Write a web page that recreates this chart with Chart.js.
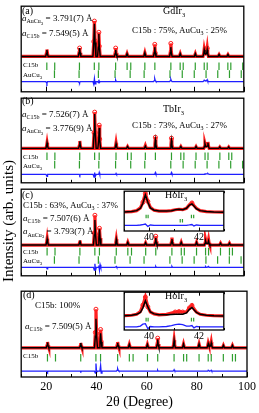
<!DOCTYPE html>
<html>
<head>
<meta charset="utf-8">
<script src="https://cdn.jsdelivr.net/npm/chart.js@4.4.0/dist/chart.umd.min.js"></script>
<style>
  html, body { margin: 0; padding: 0; background: #fff; }
  body { width: 259px; height: 413px; position: relative; overflow: hidden;
         font-family: "Liberation Serif", "Times New Roman", serif; color: #000; }
  .box { position: absolute; }
  .t { position: absolute; white-space: nowrap; line-height: 1; font-size: 9px; z-index: 5; }
  .s { font-size: 6px; position: relative; top: 2.5px; }
  .s .s { font-size: 5px; top: 1.5px; }
  .lbl { font-size: 7px; }
  .lbl .s { font-size: 5px; top: 2px; }
  .name { font-size: 10px; }
  .name .s { font-size: 6.5px; top: 3px; }
</style>
</head>
<body>

<div class="box" style="left:16px;top:1px;width:233px;height:96px"><canvas id="pa"></canvas></div>
<div class="box" style="left:16px;top:93px;width:233px;height:95px"><canvas id="pb"></canvas></div>
<div class="box" style="left:16px;top:184px;width:233px;height:97px"><canvas id="pc"></canvas></div>
<div class="box" style="left:16px;top:286px;width:243px;height:111px"><canvas id="pd"></canvas></div>
<div class="box" style="left:119px;top:186px;width:110px;height:57px"><canvas id="ic"></canvas></div>
<div class="box" style="left:119px;top:287px;width:110px;height:55px"><canvas id="id"></canvas></div>

<!-- panel (a) -->
<div class="t" style="left:22px;top:6px;font-size:10px">(a)</div>
<div class="t" style="left:22px;top:13.5px"><i>a</i><span class="s">AuCu<span class="s">3</span></span> = 3.791(7) Å</div>
<div class="t" style="left:22px;top:28.5px"><i>a</i><span class="s">C15b</span> = 7.549(5) Å</div>
<div class="t name" style="left:163px;top:6px">GdIr<span class="s">3</span></div>
<div class="t" style="left:132px;top:25.5px">C15b : 75%, AuCu<span class="s">3</span> : 25%</div>
<div class="t lbl" style="left:23px;top:62px">C15b</div>
<div class="t lbl" style="left:23px;top:71.5px">AuCu<span class="s">3</span></div>

<!-- panel (b) -->
<div class="t" style="left:22px;top:96px;font-size:10px">(b)</div>
<div class="t" style="left:22px;top:109.5px"><i>a</i><span class="s">C15b</span> = 7.526(7) Å</div>
<div class="t" style="left:22px;top:123.5px"><i>a</i><span class="s">AuCu<span class="s">3</span></span> = 3.776(9) Å</div>
<div class="t name" style="left:163px;top:104px">TbIr<span class="s">3</span></div>
<div class="t" style="left:132px;top:120.5px">C15b : 73%, AuCu<span class="s">3</span> : 27%</div>
<div class="t lbl" style="left:23px;top:154px">C15b</div>
<div class="t lbl" style="left:23px;top:163px">AuCu<span class="s">3</span></div>

<!-- panel (c) -->
<div class="t" style="left:22px;top:190px;font-size:10px">(c)</div>
<div class="t" style="left:23px;top:200.5px">C15b : 63%, AuCu<span class="s">3</span> : 37%</div>
<div class="t" style="left:23px;top:213.5px"><i>a</i><span class="s">C15b</span> = 7.507(6) Å</div>
<div class="t" style="left:23px;top:227px"><i>a</i><span class="s">AuCu<span class="s">3</span></span> = 3.793(7) Å</div>
<div class="t lbl" style="left:23px;top:248.5px">C15b</div>
<div class="t lbl" style="left:23px;top:257.5px">AuCu<span class="s">3</span></div>
<div class="t name" style="left:165px;top:189.5px">HoIr<span class="s">3</span></div>

<!-- panel (d) -->
<div class="t" style="left:23px;top:290px;font-size:10px">(d)</div>
<div class="t" style="left:35px;top:301px">C15b: 100%</div>
<div class="t" style="left:25px;top:321.5px"><i>a</i><span class="s">C15b</span> = 7.509(5) Å</div>
<div class="t lbl" style="left:23px;top:353px">C15b</div>
<div class="t name" style="left:165px;top:290.5px">HoIr<span class="s">3</span></div>

<div class="t" style="left:8px;top:221px;font-size:15px;transform:translate(-50%,-50%) rotate(-90deg)">Intensity (arb. units)</div>
<div class="t" style="left:139.5px;top:395px;font-size:14px;transform:translateX(-50%)">2θ (Degree)</div>

<script>
// axis ticks
const xTickVals = [10, 20, 30, 40, 50, 60, 70, 80, 90, 100];
const xLabels = ['', '20', '', '40', '', '60', '', '80', '', '100'];
const insetTickVals = [39, 40, 41, 42, 43];
const insetLabels = ['', '40', '', '42', ''];

// (a) GdIr3 profile
const gdX = [10,
  19.9, 20.2, 20.4, 20.6, 20.9,
  33.1, 33.4, 33.6, 33.8, 34.1,
  39.0, 39.35, 39.6, 39.85, 40.2,
  40.85, 41.2, 41.4, 41.6, 41.95,
  47.7, 48.0, 48.2, 48.4, 48.7,
  52.4, 52.8, 53.2,
  59.6, 60.0, 60.4,
  63.5, 63.8, 64.0, 64.2, 64.5,
  70.0, 70.3, 70.5, 70.7, 71.0,
  73.9, 74.3, 74.7,
  80.0, 80.4, 80.8,
  83.5, 83.8, 84.0, 84.3, 84.6, 84.95, 85.2, 85.4, 85.7,
  89.6, 90.0, 90.4,
  93.2, 93.6, 94.0,
  100];
const gdObs = [0,
  0, 3.5, 7.5, 3.5, 0,
  0, 4.5, 9, 4, 0,
  0, 16, 38, 17, 0,
  0, 11, 26, 11, 0,
  0, 4, 9, 4, 0,
  0, 3, 0,
  0, 4, 0,
  0, 5, 13, 5, 0,
  0, 5, 14, 5, 0,
  0, 3, 0,
  0, 3, 0,
  0, 3.5, 8, 4, 3, 4, 9, 4, 0,
  0, 2, 0,
  0, 2, 0,
  0];
const gdCalc = [0,
  0, 3, 7, 3, 0,
  0, 4, 9, 4, 0,
  0, 15, 35, 15, 0,
  0, 10, 24, 10, 0,
  0, 3, 7, 3, 0,
  0, 3, 0,
  0, 4, 0,
  0, 4, 10, 4, 0,
  0, 4, 10, 4, 0,
  0, 3, 0,
  0, 3, 0,
  0, 3, 7, 3, 2.5, 3, 7, 3, 0,
  0, 2, 0,
  0, 2, 0,
  0];
const gdDiff = [0,
  0, -1, -2, 0, 0,
  0, -1, -1.5, 0, 0,
  0, -3, 3, -2.5, 0,
  0, -1, 2, -1, 0,
  0, 0, 1.5, 0, 0,
  0, 0, 0,
  0, 0, 0,
  0, 1, 3, 1, 0,
  0, 1, 2.5, 1, 0,
  0, 0, 0,
  0, 0, 0,
  0, 0.5, 1.5, 1, 0.5, 1, 2, 0.5, 0,
  0, 0, 0,
  0, 0, 0,
  0];
const gdC15b = [20.36, 23.55, 33.55, 39.56, 41.40, 48.18, 52.82, 54.30, 59.99, 64.04,
  70.51, 74.27, 75.50, 80.38, 84.00, 85.20, 89.97, 93.55, 94.75, 99.56];
const gdAuCu3 = [23.45, 33.40, 41.21, 47.95, 54.05, 59.70, 70.16, 75.12, 79.97, 84.74,
  89.47, 94.21, 98.97];

// (b) TbIr3 profile
const tbX = [10,
  19.95, 20.25, 20.45, 20.65, 20.95,
  33.2, 33.5, 33.7, 33.9, 34.2,
  39.1, 39.45, 39.7, 39.95, 40.3,
  41.0, 41.35, 41.55, 41.75, 42.1,
  47.85, 48.15, 48.35, 48.55, 48.85,
  52.6, 53.0, 53.4,
  59.8, 60.2, 60.6,
  63.75, 64.05, 64.25, 64.45, 64.75,
  70.25, 70.55, 70.75, 70.95, 71.25,
  74.15, 74.55, 74.95,
  80.3, 80.7, 81.1,
  83.8, 84.1, 84.3, 84.6, 84.9, 85.25, 85.5, 85.7, 86.0,
  89.9, 90.3, 90.7,
  93.5, 93.9, 94.3,
  100];
const tbObs = [0,
  0, 2.5, 6, 2.5, 0,
  0, 3, 8, 3, 0,
  0, 17, 39, 17, 0,
  0, 10, 25, 10, 0,
  0, 2.5, 6, 2.5, 0,
  0, 2, 0,
  0, 3, 0,
  0, 5, 12, 5, 0,
  0, 4.5, 11, 4.5, 0,
  0, 2, 0,
  0, 2, 0,
  0, 2, 5.5, 2.5, 2.5, 3, 7, 3, 0,
  0, 1.5, 0,
  0, 1.5, 0,
  0];
const tbCalc = [0,
  0, 2.5, 6, 2.5, 0,
  0, 3, 7.5, 3, 0,
  0, 16, 37, 16, 0,
  0, 9, 22, 9, 0,
  0, 2, 5, 2, 0,
  0, 2, 0,
  0, 2.5, 0,
  0, 4, 9, 4, 0,
  0, 3.5, 8.5, 3.5, 0,
  0, 2, 0,
  0, 2, 0,
  0, 2, 5, 2, 2, 2.5, 6, 2.5, 0,
  0, 1.5, 0,
  0, 1.5, 0,
  0];
const tbDiff = [0,
  0, -1, -2, 0, 0,
  0, 0, -1, 0, 0,
  0, -3, 2, -2, 0,
  0, 0, 2, 0, 0,
  0, 0, 1, 0, 0,
  0, 0, 0,
  0, 0, 0,
  0, 0.5, 2, 0.5, 0,
  0, 0.5, 2, 0.5, 0,
  0, 0, 0,
  0, 0, 0,
  0, 0, 0.5, 0.5, 0.5, 0.5, 1, 0.5, 0,
  0, 0, 0,
  0, 0, 0,
  0];
const tbC15b = [20.42, 23.62, 33.66, 39.69, 41.53, 48.33, 52.99, 54.48, 60.19, 64.26,
  70.76, 74.53, 75.78, 80.68, 84.33, 85.53, 90.32, 93.93, 95.13];
const tbAuCu3 = [23.54, 33.54, 41.38, 48.16, 54.28, 59.96, 70.48, 75.47, 80.35, 85.16,
  89.93, 94.70, 99.51];

// (c), (d) HoIr3 profiles
const hoX = [10,
  20.0, 20.3, 20.5, 20.7, 21.0,
  33.3, 33.55, 33.75, 33.95, 34.2,
  39.2, 39.55, 39.8, 40.05, 40.4,
  41.1, 41.4, 41.65, 41.9, 42.2,
  47.95, 48.25, 48.45, 48.65, 48.95,
  52.7, 53.1, 53.5,
  59.9, 60.3, 60.7,
  63.9, 64.2, 64.4, 64.6, 64.9,
  70.45, 70.75, 70.95, 71.15, 71.45,
  74.3, 74.7, 75.1,
  80.5, 80.9, 81.3,
  84.05, 84.35, 84.55, 84.85, 85.15, 85.5, 85.75, 85.95, 86.25,
  90.2, 90.6, 91.0,
  93.8, 94.2, 94.6,
  100];
const hoCObs = [0,
  0, 3, 7, 3, 0,
  0, 2, 5, 2, 0,
  0, 13, 32, 12, 0,
  0, 7.5, 18, 7.5, 0,
  0, 3, 6.5, 3, 0,
  0, 3, 0,
  0, 2.5, 0,
  0, 4, 9.5, 4, 0,
  0, 3.5, 8, 3.5, 0,
  0, 3, 0,
  0, 3, 0,
  0, 2.5, 6, 2.5, 2, 2.5, 6, 2.5, 0,
  0, 2, 0,
  0, 2, 0,
  0];
const hoCCalc = [0,
  0, 3, 6.5, 3, 0,
  0, 2, 5, 2, 0,
  0, 11, 27, 11, 0,
  0, 7, 17, 7, 0,
  0, 2.5, 6, 2.5, 0,
  0, 3, 0,
  0, 2.5, 0,
  0, 3, 7.5, 3, 0,
  0, 3, 6.5, 3, 0,
  0, 3, 0,
  0, 3, 0,
  0, 2, 4.5, 2, 1.5, 2, 4.5, 2, 0,
  0, 2, 0,
  0, 2, 0,
  0];
const hoCDiff = [0,
  0, 0, -1.5, 0, 0,
  0, 0, 0, 0, 0,
  0, -3, 4, -3, 0,
  0, 2, -3, 3, 0,
  0, 0, 1, 0, 0,
  0, 0, 0,
  0, 0, 0,
  0, 0, 1, 0, 0,
  0, 0, 1, 0, 0,
  0, 0, 0,
  0, 0, 0,
  0, 0, 1, 0, 0, 0, 1, 0, 0,
  0, 0, 0,
  0, 0, 0,
  0];
const hoDObs = [0,
  0, 2.5, 6, 2.5, 0,
  0, 2, 5, 2, 0,
  0, 16, 40, 15, 0,
  0, 8, 19, 7.5, 0,
  0, 3, 6, 2.5, 0,
  0, 3.5, 0,
  0, 3.5, 0,
  0, 4.5, 10, 4, 0,
  0, 3.5, 8, 3.5, 0,
  0, 4, 0,
  0, 4, 0,
  0, 2.5, 5, 2.5, 2, 2.5, 6, 2.5, 0,
  0, 2.5, 0,
  0, 2.5, 0,
  0];
const hoDCalc = [0,
  0, 2.5, 5.5, 2.5, 0,
  0, 2, 5, 2, 0,
  0, 12, 30, 12, 0,
  0, 6, 15, 6, 0,
  0, 2, 5, 2, 0,
  0, 3.5, 0,
  0, 3.5, 0,
  0, 3.5, 8.5, 3.5, 0,
  0, 3, 7.5, 3, 0,
  0, 4, 0,
  0, 4, 0,
  0, 2, 4.5, 2, 1.5, 2, 5, 2, 0,
  0, 2.5, 0,
  0, 2.5, 0,
  0];
const hoDDiff = [0,
  0, 0, -1, 0, 0,
  0, 0, -0.5, 0, 0,
  0, -2, 8, -1, 0,
  0, 1, 6, -2, 0,
  0, 1, 2.5, 1, 0,
  0, 0, 0,
  0, 0, 0,
  0, 0, 1, 0, 0,
  0, 0.5, 1.5, 0.5, 0,
  0, 0, 0,
  0, 0, 0,
  0, 0, 1, 0.5, 0, 0.5, 1, 0, 0,
  0, 0, 0,
  0, 0, 0,
  0];
const hoC15b = [20.47, 23.67, 33.73, 39.78, 41.63, 48.44, 53.11, 54.60, 60.33, 64.41,
  70.93, 74.72, 75.96, 80.89, 84.54, 85.75, 90.57, 94.20, 95.40];
const hoAuCu3 = [23.43, 33.38, 41.19, 47.92, 54.02, 59.67, 70.12, 75.07, 79.92, 84.69,
  89.41, 94.15, 98.90];

// insets, 39-43 degrees (K-alpha1 / K-alpha2 pairs)
const insetX = [39.0, 39.3, 39.5, 39.65, 39.75, 39.85, 39.95, 40.05, 40.2, 40.4, 40.7, 40.9,
  41.05, 41.2, 41.35, 41.5, 41.62, 41.72, 41.8, 41.9, 42.05, 42.3, 42.6, 43.0];
const insetCObs = [0.5, 1, 2, 5, 11, 20.5, 12, 5.5, 2.5, 1.5, 1.5, 2,
  3, 3.5, 3, 4.5, 8.5, 10.3, 7.5, 4.5, 2, 1, 0.5, 0.3];
const insetCCalc = [0.5, 1, 2, 4.5, 10, 19, 11, 5, 2.5, 1.5, 1.5, 2,
  3, 3.5, 3, 4.5, 8, 9.3, 7, 4, 2, 1, 0.5, 0.3];
const insetCDiff = [0, 0, 0, 0.5, 1, 1.5, -1, 0.5, 0, 0, 0, 0,
  0, 0, 0, 0, 0.5, 1, -0.5, 0.5, 0, 0, 0, 0];
const insetDObs = [0.5, 1, 2, 5, 12, 20.7, 10, 4.5, 2.5, 1.5, 2, 3.5,
  4.5, 5, 4.5, 4.5, 9, 11.7, 8, 4.5, 2, 1, 0.5, 0.3];
const insetDCalc = [0.5, 1, 2, 4, 9, 16.7, 10, 4.5, 2.5, 1.5, 1.5, 1.8,
  2, 2.2, 2, 3.5, 7.5, 9.3, 7, 4, 2, 1, 0.5, 0.3];
const insetDDiff = [0, 0, 0, 1, 3, 3.5, -2, 0.5, 0, 0, 0.5, 1.5,
  2.5, 3, 2.5, 1, 1, 1.5, -1, 0.5, 0, 0, 0, 0];
const insetC15b = [39.88, 39.96, 41.70, 41.79];
const insetAuCu3 = [41.25, 41.34];

const RED = '#ff2020', BLUE = '#1f1fff', GREEN = '#2f9e2f';

function pts(xs, ys, off) {
  return xs.map((x, i) => ({ x: x, y: ys[i] + (off || 0) }));
}

// box around the plot area + inward tick marks
function frame(vals, labels, long, short, both) {
  return {
    id: 'frame',
    beforeDraw(chart) {
      if (!both) return;
      const a = chart.chartArea, ctx = chart.ctx;
      ctx.save();
      ctx.fillStyle = '#fff';
      ctx.fillRect(a.left, a.top, a.right - a.left, a.bottom - a.top);
      ctx.restore();
    },
    afterDatasetsDraw(chart) {
      const a = chart.chartArea, ctx = chart.ctx, x = chart.scales.x;
      ctx.save();
      ctx.strokeStyle = '#000';
      ctx.lineWidth = 1.3;
      ctx.strokeRect(a.left, a.top, a.right - a.left, a.bottom - a.top);
      ctx.lineWidth = 1;
      ctx.beginPath();
      vals.forEach((v, i) => {
        const px = Math.round(x.getPixelForValue(v)) + 0.5;
        const len = labels[i] ? long : short;
        ctx.moveTo(px, a.bottom);
        ctx.lineTo(px, a.bottom - len);
        if (both) {
          ctx.moveTo(px, a.top);
          ctx.lineTo(px, a.top + len);
        }
      });
      ctx.stroke();
      ctx.restore();
    }
  };
}

function drawPattern(id, p) {
  const datasets = [
    { data: pts(p.x, p.calc), borderColor: '#000', borderWidth: p.inset ? 1.5 : 1.4,
      pointRadius: 0, order: 0 },
    { data: pts(p.x, p.obs), borderColor: RED, borderWidth: 3.2,
      pointStyle: 'circle', pointBorderColor: RED, pointBackgroundColor: 'rgba(255,255,255,0)',
      pointBorderWidth: 1,
      pointRadius: c => (p.obs[c.dataIndex] >= p.thr ||
        p.obs[c.dataIndex] - p.calc[c.dataIndex] >= 2.5) ? 2 : 0,
      order: 1 },
    { data: pts(p.x, p.diff, p.diffAt), borderColor: BLUE, borderWidth: 1.3,
      pointRadius: 0, order: 2 }
  ];
  p.rows.forEach(r => {
    datasets.push({
      data: r.pos.map(v => ({ x: v, y: r.at })), showLine: false,
      pointStyle: 'line', pointRotation: 90, pointRadius: p.tickR,
      pointBorderColor: GREEN, pointBorderWidth: 1.2, order: 3
    });
  });

  const xAxis = {
    type: 'linear', min: p.xMin, max: p.xMax, display: !!p.axisH,
    grid: { display: false, drawTicks: false }, border: { display: false },
    afterFit: s => { s.height = p.axisH || 0; s.paddingLeft = 0; s.paddingRight = 0; },
    ticks: {
      stepSize: p.xStep, autoSkip: false, maxRotation: 0, padding: p.tickPad || 0,
      color: '#000', font: { family: 'Liberation Serif', size: p.tickFont || 12 },
      callback: (v, i) => p.labels[i]
    }
  };

  new Chart(document.getElementById(id), {
    type: 'line',
    data: { datasets: datasets },
    options: {
      animation: false, responsive: true, maintainAspectRatio: false, events: [],
      layout: { padding: p.pad },
      plugins: { legend: { display: false }, tooltip: { enabled: false } },
      scales: {
        x: xAxis,
        y: { min: p.yMin, max: p.yMax, display: false }
      }
    },
    plugins: [frame(p.tickVals, p.labels, p.inset ? 3.5 : 5, p.inset ? 2 : 3, !!p.inset)]
  });
}

const mainBase = { xMin: 10, xMax: 100, xStep: 10, tickVals: xTickVals, labels: xLabels,
  thr: 9, tickR: 3.8 };
const insetBase = { xMin: 39, xMax: 43, xStep: 1, tickVals: insetTickVals, labels: insetLabels,
  thr: 9, tickR: 1.8, inset: true, axisH: 12, tickFont: 10, tickPad: 0,
  pad: { top: 2, left: 2, right: 2, bottom: 0 } };

drawPattern('pa', Object.assign({}, mainBase, {
  x: gdX, obs: gdObs, calc: gdCalc, diff: gdDiff, diffAt: -27,
  rows: [{ pos: gdC15b, at: -10.5 }, { pos: gdAuCu3, at: -19 }],
  yMin: -38, yMax: 54, pad: 2 }));

drawPattern('pb', Object.assign({}, mainBase, {
  x: tbX, obs: tbObs, calc: tbCalc, diff: tbDiff, diffAt: -28,
  rows: [{ pos: tbC15b, at: -8.5 }, { pos: tbAuCu3, at: -17.5 }],
  yMin: -37, yMax: 54, pad: 2 }));

drawPattern('pc', Object.assign({}, mainBase, {
  x: hoX, obs: hoCObs, calc: hoCCalc, diff: hoCDiff, diffAt: -24,
  rows: [{ pos: hoC15b, at: -7 }, { pos: hoAuCu3, at: -16 }],
  yMin: -33, yMax: 60, pad: 2 }));

drawPattern('pd', Object.assign({}, mainBase, {
  x: hoX, obs: hoDObs, calc: hoDCalc, diff: hoDDiff, diffAt: -24.3,
  rows: [{ pos: hoC15b, at: -10.3 }],
  yMin: -30.3, yMax: 58.7, axisH: 20, tickPad: 3, tickFont: 12,
  pad: { top: 2, left: 2, right: 12, bottom: 0 } }));

drawPattern('ic', Object.assign({}, insetBase, {
  x: insetX, obs: insetCObs, calc: insetCCalc, diff: insetCDiff, diffAt: -14,
  rows: [{ pos: insetC15b, at: -4.3 }, { pos: insetAuCu3, at: -9 }],
  yMin: -20, yMax: 23 }));

drawPattern('id', Object.assign({}, insetBase, {
  x: insetX, obs: insetDObs, calc: insetDCalc, diff: insetDDiff, diffAt: -11.7,
  rows: [{ pos: insetC15b, at: -3.7 }],
  yMin: -15, yMax: 26 }));
</script>
</body>
</html>
